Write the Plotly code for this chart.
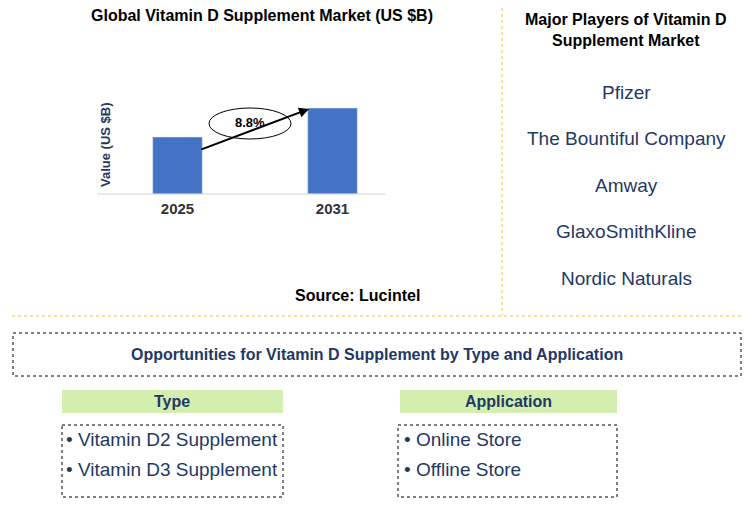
import plotly.graph_objects as go

W, H = 752, 509
OFF = 8  # page body margin
FW, FH = W - 2 * OFF, H - 2 * OFF

years = ["2025", "2031"]
values = [3.25, 4.9]
cagr = "8.8%"
players = ["Pfizer", "The Bountiful Company", "Amway", "GlaxoSmithKline", "Nordic Naturals"]
types = ["• Vitamin D2 Supplement", "• Vitamin D3 Supplement"]
apps = ["• Online Store", "• Offline Store"]

FONT = "Liberation Sans, Arial, sans-serif"


def px(x):
    return (x - OFF) / FW


def py(y):
    return 1 - (y - OFF) / FH


fig = go.Figure()
fig.add_trace(go.Bar(x=years, y=values, marker_color="#4472c4", width=0.32))

shapes = []
ann = []


def rect(x0, y0, x1, y1, line=None, fill=None):
    shapes.append(dict(type="rect", xref="paper", yref="paper",
                       x0=px(x0), x1=px(x1), y0=py(y0), y1=py(y1),
                       line=line or dict(width=0), fillcolor=fill or "rgba(0,0,0,0)"))


def text(x, y, s, size=14, bold=False, color="black", anchor="center"):
    ann.append(dict(xref="paper", yref="paper", x=px(x), y=py(y), text=f"<b>{s}</b>" if bold else s,
                    showarrow=False, xanchor=anchor, yanchor="middle",
                    font=dict(family=FONT, size=size, color=color)))


# dividers
shapes.append(dict(type="line", xref="paper", yref="paper", x0=px(502), x1=px(502), y0=py(8), y1=py(315),
                   line=dict(color="#f0c040", width=1, dash="dot")))
shapes.append(dict(type="line", xref="paper", yref="paper", x0=px(12), x1=px(742), y0=py(316), y1=py(316),
                   line=dict(color="#f0c040", width=1, dash="dot")))
# axis baseline
shapes.append(dict(type="line", xref="paper", yref="paper", x0=px(97), x1=px(385), y0=py(194), y1=py(194),
                   line=dict(color="#d0d0d0", width=1)))
# arrow
ann.append(dict(xref="paper", yref="paper", axref="pixel", ayref="pixel",
                x=px(309), y=py(109), ax=-109, ay=41, text="", showarrow=True,
                arrowhead=2, arrowsize=1, arrowwidth=2, arrowcolor="black"))
# ellipse
shapes.append(dict(type="circle", xref="paper", yref="paper", x0=px(209), x1=px(291), y0=py(108), y1=py(139),
                   line=dict(color="black", width=1), fillcolor="white", layer="above"))
rect(13, 333, 741, 376, line=dict(color="black", width=1, dash="dot"))
rect(62, 390, 283, 413, fill="#d4eeb0")
rect(400, 390, 617, 413, fill="#d4eeb0")
rect(62, 425, 283, 497, line=dict(color="black", width=1, dash="dot"))
rect(398, 425, 617, 497, line=dict(color="black", width=1, dash="dot"))

text(250, 123, f"<b>{cagr}</b>", 13)

text(262, 15, "Global Vitamin D Supplement Market (US $B)", 16, True)
text(293, 295, "Source: Lucintel", 16, True, anchor="left")
text(626, 20, "Major Players of Vitamin D", 16, True)
text(626, 41, "Supplement Market", 16, True)
for i, p in enumerate(players):
    text(626, 92 + i * 46.5, p, 19, color="#1f3864")
text(377, 354, "Opportunities for Vitamin D Supplement by Type and Application", 16, True, color="#1f3864")
text(172, 401, "Type", 16, True, color="#1f3864")
text(508, 401, "Application", 16, True, color="#1f3864")
for i, t in enumerate(types):
    text(64, 439 + i * 30, t, 19, color="#1f3864", anchor="left")
for i, t in enumerate(apps):
    text(402, 439 + i * 30, t, 19, color="#1f3864", anchor="left")
ann.append(dict(xref="paper", yref="paper", x=px(106), y=py(145), text="<b>Value (US $B)</b>",
                textangle=-90, showarrow=False, xanchor="center", yanchor="middle",
                font=dict(family=FONT, size=13, color="#1f3864")))

fig.update_layout(
    width=FW, height=FH, margin=dict(l=0, r=0, t=0, b=0),
    plot_bgcolor="white", paper_bgcolor="white", showlegend=False, bargap=0.2,
    xaxis=dict(domain=[px(100), px(410)], showline=False, showgrid=False, ticks="",
               tickfont=dict(family=FONT, size=15, color="#333"), ticklabelstandoff=4),
    yaxis=dict(domain=[py(194), py(80)], range=[0, 6.5], visible=False),
    shapes=shapes, annotations=ann,
)
fig.update_xaxes(tickvals=years, ticktext=[f"<b>{y}</b>" for y in years])

fig.write_html("out.html")
